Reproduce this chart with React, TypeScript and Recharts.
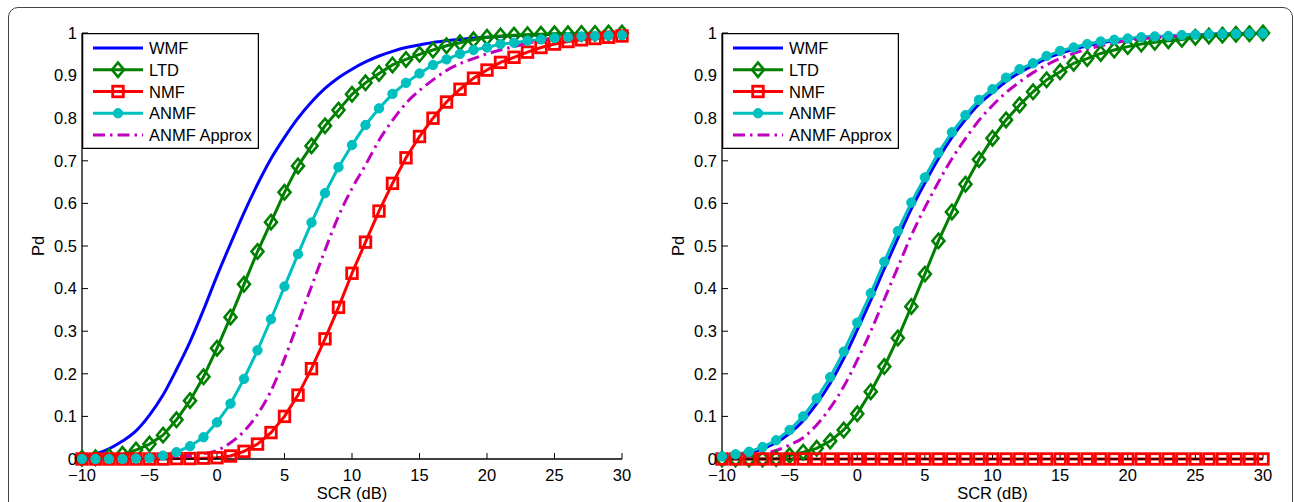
import React from 'react';
import { LineChart, Line, XAxis, YAxis, Legend } from 'recharts';

// ---------- data ----------
const SCR = [-10, -9, -8, -7, -6, -5, -4, -3, -2, -1, 0, 1, 2, 3, 4, 5, 6, 7, 8, 9, 10, 11, 12, 13, 14, 15, 16, 17, 18, 19, 20, 21, 22, 23, 24, 25, 26, 27, 28, 29, 30];
const X_TICKS = [-10, -5, 0, 5, 10, 15, 20, 25, 30];
const Y_TICKS = [0, 0.1, 0.2, 0.3, 0.4, 0.5, 0.6, 0.7, 0.8, 0.9, 1];
const SERIES_NAMES = ['WMF', 'LTD', 'NMF', 'ANMF', 'ANMF Approx'];

// left panel
const WMF_L = [0.005, 0.012, 0.024, 0.042, 0.066, 0.103, 0.15, 0.21, 0.275, 0.35, 0.43, 0.505, 0.578, 0.645, 0.705, 0.755, 0.8, 0.838, 0.87, 0.895, 0.915, 0.932, 0.946, 0.957, 0.966, 0.972, 0.978, 0.982, 0.985, 0.988, 0.99, 0.992, 0.994, 0.995, 0.996, 0.997, 0.998, 0.998, 0.999, 0.999, 1.0];
const LTD_L = [0.002, 0.003, 0.006, 0.011, 0.021, 0.035, 0.056, 0.092, 0.137, 0.193, 0.26, 0.333, 0.41, 0.487, 0.556, 0.626, 0.688, 0.735, 0.782, 0.819, 0.856, 0.883, 0.905, 0.925, 0.938, 0.95, 0.96, 0.97, 0.977, 0.984, 0.99, 0.993, 0.995, 0.996, 0.997, 0.998, 0.998, 0.999, 0.999, 1.0, 1.0];
const NMF_L = [0.0, 0.0, 0.0, 0.0, 0.0, 0.0, 0.0, 0.001, 0.001, 0.002, 0.003, 0.007, 0.018, 0.035, 0.062, 0.1, 0.15, 0.212, 0.282, 0.356, 0.436, 0.509, 0.582, 0.647, 0.707, 0.757, 0.8, 0.838, 0.868, 0.894, 0.913, 0.931, 0.943, 0.955, 0.966, 0.974, 0.98, 0.984, 0.987, 0.99, 0.993];
const ANMF_L = [0.0, 0.0, 0.0, 0.0, 0.001, 0.002, 0.008, 0.016, 0.03, 0.051, 0.086, 0.13, 0.188, 0.255, 0.328, 0.405, 0.481, 0.555, 0.624, 0.685, 0.737, 0.784, 0.823, 0.857, 0.883, 0.905, 0.925, 0.938, 0.951, 0.96, 0.966, 0.974, 0.977, 0.982, 0.985, 0.988, 0.99, 0.992, 0.993, 0.994, 0.995];
const APPROX_L = [0.0, 0.0, 0.0, 0.001, 0.001, 0.002, 0.003, 0.005, 0.008, 0.012, 0.02, 0.038, 0.065, 0.105, 0.16, 0.235, 0.32, 0.405, 0.49, 0.57, 0.635, 0.69, 0.748, 0.795, 0.835, 0.865, 0.89, 0.912, 0.928, 0.94, 0.951, 0.96, 0.968, 0.976, 0.982, 0.987, 0.99, 0.993, 0.995, 0.997, 0.998];

// right panel
const WMF_R = [0.005, 0.009, 0.014, 0.024, 0.038, 0.06, 0.09, 0.13, 0.178, 0.236, 0.303, 0.373, 0.447, 0.518, 0.587, 0.648, 0.705, 0.755, 0.797, 0.833, 0.86, 0.886, 0.907, 0.924, 0.94, 0.952, 0.962, 0.97, 0.977, 0.982, 0.986, 0.989, 0.991, 0.993, 0.995, 0.996, 0.997, 0.998, 0.998, 0.999, 0.999];
const LTD_R = [0.0, 0.0, 0.0, 0.0, 0.001, 0.008, 0.016, 0.025, 0.042, 0.068, 0.106, 0.158, 0.217, 0.284, 0.358, 0.434, 0.512, 0.58, 0.645, 0.703, 0.753, 0.796, 0.831, 0.862, 0.89, 0.909, 0.929, 0.94, 0.952, 0.96, 0.968, 0.974, 0.978, 0.982, 0.985, 0.99, 0.993, 0.995, 0.997, 0.998, 1.0];
const NMF_R = [0, 0, 0, 0, 0, 0, 0, 0, 0, 0, 0, 0, 0, 0, 0, 0, 0, 0, 0, 0, 0, 0, 0, 0, 0, 0, 0, 0, 0, 0, 0, 0, 0, 0, 0, 0, 0, 0, 0, 0, 0];
const ANMF_R = [0.006, 0.011, 0.017, 0.028, 0.044, 0.068, 0.1, 0.142, 0.192, 0.252, 0.32, 0.389, 0.463, 0.535, 0.602, 0.661, 0.719, 0.767, 0.807, 0.843, 0.868, 0.895, 0.915, 0.929, 0.946, 0.958, 0.966, 0.974, 0.98, 0.984, 0.987, 0.99, 0.992, 0.993, 0.995, 0.996, 0.997, 0.998, 0.998, 0.999, 0.999];
const APPROX_R = [0.002, 0.004, 0.007, 0.012, 0.02, 0.033, 0.05, 0.08, 0.12, 0.17, 0.232, 0.3, 0.375, 0.45, 0.525, 0.59, 0.65, 0.705, 0.752, 0.795, 0.83, 0.86, 0.885, 0.907, 0.925, 0.94, 0.952, 0.962, 0.97, 0.977, 0.982, 0.986, 0.989, 0.991, 0.993, 0.995, 0.996, 0.997, 0.998, 0.998, 0.999];

// ---------- styling ----------
const FONT = '"Liberation Sans", Arial, Helvetica, sans-serif';
const FS = 16.5;
const C_WMF = '#0000FF';
const C_LTD = '#008000';
const C_NMF = '#FF0000';
const C_ANMF = '#00BFBF';
const C_APPROX = '#BF00BF';
const LW = 3;
const DASH = '12 5 2.5 5';

const CHART_H = 502;
const PLOT_TOP = 33;
const PLOT_BOTTOM = 459;
const XAXIS_H = 40;

const buildRows = (wmf: number[], ltd: number[], nmf: number[], anmf: number[], approx: number[]) =>
  SCR.map((x, i) => ({ x, WMF: wmf[i], LTD: ltd[i], NMF: nmf[i], ANMF: anmf[i], APPROX: approx[i] }));

const fmtX = (v: number) => (v < 0 ? `\u2212${Math.abs(v)}` : `${v}`);
const fmtY = (v: number) => (v === 0 ? '0' : v === 1 ? '1' : v.toFixed(1));
const blank = () => '';

// ---------- markers ----------
const diamondShape = (cx: number, cy: number, key?: any) => (
  <polygon key={key} points={`${cx},${cy - 7.2} ${cx + 6},${cy} ${cx},${cy + 7.2} ${cx - 6},${cy}`} fill="none" stroke={C_LTD} strokeWidth={2.6} />
);
const squareShape = (cx: number, cy: number, key?: any) => (
  <rect key={key} x={cx - 5.3} y={cy - 5.3} width={10.6} height={10.6} fill="none" stroke={C_NMF} strokeWidth={2.8} />
);
const circleShape = (cx: number, cy: number, key?: any) => (
  <circle key={key} cx={cx} cy={cy} r={4.7} fill={C_ANMF} stroke={C_ANMF} strokeWidth={1} />
);

const DiamondDot = (p: any) => (p.cx == null || p.cy == null ? null : diamondShape(p.cx, p.cy, `d-${p.index}`));
const SquareDot = (p: any) => (p.cx == null || p.cy == null ? null : squareShape(p.cx, p.cy, `s-${p.index}`));
const CircleDot = (p: any) => (p.cx == null || p.cy == null ? null : circleShape(p.cx, p.cy, `c-${p.index}`));

// ---------- legend ----------
const LEG_W = 176;
const LEG_H = 115;
const LegendBox = () => {
  const rows = [0, 1, 2, 3, 4];
  return (
    <svg width={LEG_W + 1} height={LEG_H + 1} style={{ display: 'block', fontFamily: FONT }}>
      <rect x={0.6} y={0.6} width={LEG_W - 0.2} height={LEG_H - 0.2} fill="#fff" stroke="#000" strokeWidth={1.3} />
      {rows.map((i) => {
        const cy = 15 + i * 21.75;
        const x1 = 11;
        const x2 = 61;
        const mx = 36;
        let line: React.ReactNode = null;
        let marker: React.ReactNode = null;
        if (i === 0) line = <line x1={x1} x2={x2} y1={cy} y2={cy} stroke={C_WMF} strokeWidth={LW} />;
        if (i === 1) {
          line = <line x1={x1} x2={x2} y1={cy} y2={cy} stroke={C_LTD} strokeWidth={LW} />;
          marker = diamondShape(mx, cy);
        }
        if (i === 2) {
          line = <line x1={x1} x2={x2} y1={cy} y2={cy} stroke={C_NMF} strokeWidth={LW} />;
          marker = squareShape(mx, cy);
        }
        if (i === 3) {
          line = <line x1={x1} x2={x2} y1={cy} y2={cy} stroke={C_ANMF} strokeWidth={LW} />;
          marker = circleShape(mx, cy);
        }
        if (i === 4) line = <line x1={x1} x2={x2} y1={cy} y2={cy} stroke={C_APPROX} strokeWidth={LW} strokeDasharray={DASH} />;
        return (
          <g key={i}>
            {line}
            {marker}
            <text x={67} y={cy + 6} fontSize={FS} fill="#000">
              {SERIES_NAMES[i]}
            </text>
          </g>
        );
      })}
    </svg>
  );
};

// ---------- panel ----------
type PanelProps = { left: number; width: number; plotLeft: number; plotRight: number; rows: any[] };

const Panel = ({ left, width, plotLeft, plotRight, rows }: PanelProps) => {
  const yLabelX = plotLeft - 44;
  const yLabelY = (PLOT_TOP + PLOT_BOTTOM) / 2;
  const xLabelX = (plotLeft + plotRight) / 2;
  const xLabelY = 499;
  const axisLine = { stroke: '#000', strokeWidth: 1.3 };
  const tickLine = { stroke: '#000', strokeWidth: 1 };
  const tickStyle = { fill: '#000', fontSize: FS, fontFamily: FONT };
  return (
    <div style={{ position: 'absolute', left, top: 0, width, height: CHART_H }}>
      <LineChart
        width={width}
        height={CHART_H}
        data={rows}
        margin={{ top: PLOT_TOP, right: width - plotRight, bottom: CHART_H - PLOT_BOTTOM - XAXIS_H, left: plotLeft - 60 }}
        style={{ fontFamily: FONT }}
      >
        <XAxis
          xAxisId="b"
          dataKey="x"
          type="number"
          domain={[-10, 30]}
          ticks={X_TICKS}
          interval={0}
          tickFormatter={fmtX}
          height={XAXIS_H}
          tickSize={-6}
          tickMargin={16}
          axisLine={axisLine}
          tickLine={tickLine}
          tick={tickStyle}
          label={() => (
            <text x={xLabelX} y={xLabelY} textAnchor="middle" fontSize={FS} fill="#000" fontFamily={FONT}>
              SCR (dB)
            </text>
          )}
        />
        <XAxis
          xAxisId="t"
          orientation="top"
          dataKey="x"
          type="number"
          domain={[-10, 30]}
          ticks={X_TICKS}
          interval={0}
          tickFormatter={blank}
          height={0}
          tickSize={-6}
          tickMargin={0}
          axisLine={axisLine}
          tickLine={tickLine}
        />
        <YAxis
          yAxisId="l"
          type="number"
          domain={[0, 1]}
          ticks={Y_TICKS}
          interval={0}
          tickFormatter={fmtY}
          width={60}
          tickSize={-6}
          tickMargin={11}
          axisLine={axisLine}
          tickLine={tickLine}
          tick={tickStyle}
          label={() => (
            <text
              x={yLabelX}
              y={yLabelY}
              textAnchor="middle"
              dy="0.36em"
              fontSize={FS}
              fill="#000"
              fontFamily={FONT}
              transform={`rotate(-90 ${yLabelX} ${yLabelY})`}
            >
              Pd
            </text>
          )}
        />
        <YAxis
          yAxisId="r"
          orientation="right"
          type="number"
          domain={[0, 1]}
          ticks={Y_TICKS}
          interval={0}
          tickFormatter={blank}
          width={0}
          tickSize={-6}
          tickMargin={0}
          axisLine={axisLine}
          tickLine={tickLine}
        />
        <Line xAxisId="b" yAxisId="l" dataKey="WMF" name="WMF" stroke={C_WMF} strokeWidth={LW} dot={false} activeDot={false} isAnimationActive={false} type="monotone" />
        <Line xAxisId="b" yAxisId="l" dataKey="LTD" name="LTD" stroke={C_LTD} strokeWidth={LW} dot={DiamondDot} activeDot={false} isAnimationActive={false} type="linear" />
        <Line xAxisId="b" yAxisId="l" dataKey="NMF" name="NMF" stroke={C_NMF} strokeWidth={LW} dot={SquareDot} activeDot={false} isAnimationActive={false} type="linear" />
        <Line xAxisId="b" yAxisId="l" dataKey="ANMF" name="ANMF" stroke={C_ANMF} strokeWidth={LW} dot={CircleDot} activeDot={false} isAnimationActive={false} type="linear" />
        <Line xAxisId="b" yAxisId="l" dataKey="APPROX" name="ANMF Approx" stroke={C_APPROX} strokeWidth={LW} strokeDasharray={DASH} dot={false} activeDot={false} isAnimationActive={false} type="monotone" />
        <Legend
          layout="vertical"
          align="center"
          verticalAlign="middle"
          content={() => <LegendBox />}
          wrapperStyle={{ left: plotLeft, top: PLOT_TOP, width: LEG_W + 1, height: LEG_H + 1, margin: 0, padding: 0 }}
        />
      </LineChart>
    </div>
  );
};

const LEFT_ROWS = buildRows(WMF_L, LTD_L, NMF_L, ANMF_L, APPROX_L);
const RIGHT_ROWS = buildRows(WMF_R, LTD_R, NMF_R, ANMF_R, APPROX_R);

export default function App() {
  return (
    <div style={{ position: 'absolute', left: 0, top: 0, width: 1294, height: 502, overflow: 'hidden', background: '#fff' }}>
      <div
        style={{
          position: 'absolute',
          left: 8,
          top: 7,
          width: 1285,
          height: 530,
          border: '1px solid #444',
          borderRadius: 10,
          boxSizing: 'border-box',
        }}
      />
      <Panel left={0} width={650} plotLeft={82} plotRight={622} rows={LEFT_ROWS} />
      <Panel left={650} width={644} plotLeft={72} plotRight={613} rows={RIGHT_ROWS} />
    </div>
  );
}
